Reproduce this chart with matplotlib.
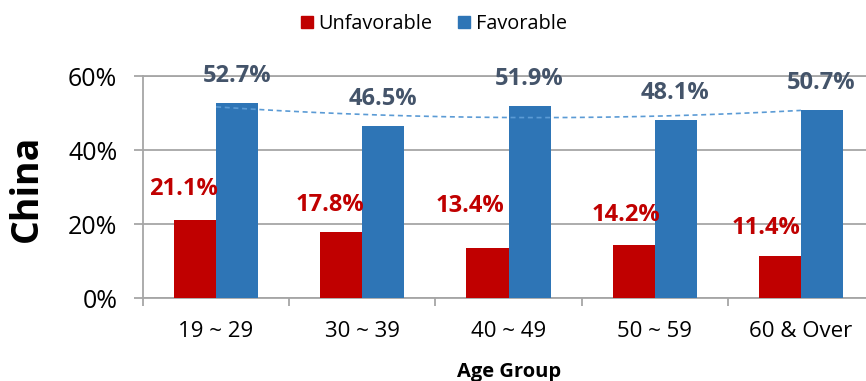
import numpy as np
import matplotlib
matplotlib.use("Agg")
import matplotlib.pyplot as plt
from matplotlib.patches import Patch

plt.rcParams['font.family'] = ['Open Sans', 'DejaVu Sans']

# ---- data ----
categories = ["19 ~ 29", "30 ~ 39", "40 ~ 49", "50 ~ 59", "60 & Over"]
unfavorable = [21.1, 17.8, 13.4, 14.2, 11.4]
favorable = [52.7, 46.5, 51.9, 48.1, 50.7]
series_names = ["Unfavorable", "Favorable"]
y_ticks = [0, 20, 40, 60]

# ---- style ----
RED = "#C00000"
BLUE = "#2E75B6"
LABEL_BLUE = "#44546A"
TREND = "#5B9BD5"
GRID = "#A6A6A6"
W, H = 866, 381

fig = plt.figure(figsize=(W / 100, H / 100), dpi=100)
ax = fig.add_axes([143 / W, (H - 298) / H, (W - 143) / W, 222 / H])

x = np.arange(len(categories))
bw = 0.288
ax.bar(x - bw / 2, unfavorable, bw, color=RED, zorder=3)
ax.bar(x + bw / 2, favorable, bw, color=BLUE, zorder=3)

# polynomial (order 2) trendline of favorable series
coef = np.polyfit(x, favorable, 2)
xs = np.linspace(x[0], x[-1], 200)
ax.plot(xs, np.polyval(coef, xs), color=TREND, lw=1.2, dashes=(3, 2.2), zorder=4)

# data labels (offsets in pixels: dx, dy above bar top to baseline)
red_off = [(-11.5, 25), (-11.5, 21.5), (-17, 36), (-8, 24), (-13.5, 22)]
for i, v in enumerate(unfavorable):
    ax.annotate(f"{v:.1f}%", xy=(x[i] - bw / 2, v), xytext=red_off[i],
                textcoords="offset pixels", ha="center", va="baseline",
                color=RED, fontsize=17, fontweight="bold", zorder=5)
for i, v in enumerate(favorable):
    ax.annotate(f"{v:.1f}%", xy=(x[i] + bw / 2, v), xytext=(-0.5, 21),
                textcoords="offset pixels", ha="center", va="baseline",
                color=LABEL_BLUE, fontsize=17, fontweight="bold", zorder=5)

ax.set_xlim(-0.5, (W - 217) / 146)
ax.set_ylim(0, 60)
ax.set_yticks(y_ticks)
ax.set_yticklabels([f"{t}%" for t in y_ticks])
ax.set_xticks(x)
ax.set_xticklabels(categories)
ax.set_xticks(np.arange(-0.5, len(categories) - 1), minor=True)

ax.tick_params(axis="y", which="major", length=6.5, width=1.3, color=GRID,
               pad=12, labelsize=18, labelcolor="#000000")
ax.tick_params(axis="x", which="major", length=0, pad=16.5, labelsize=16,
               labelcolor="#000000")
ax.tick_params(axis="x", which="minor", length=5.8, width=1.3, color=GRID)

ax.yaxis.grid(True, color=GRID, lw=1.3, zorder=0)
ax.set_axisbelow(True)
for s in ["right"]:
    ax.spines[s].set_visible(False)
for s in ["left", "bottom", "top"]:
    ax.spines[s].set_color(GRID)
    ax.spines[s].set_linewidth(1.3)

# legend
handles = [Patch(color=RED), Patch(color=BLUE)]
fig.legend(handles, series_names, loc="center", bbox_to_anchor=(434 / W, 1 - 24 / H),
           ncol=2, frameon=False, fontsize=14.3, handlelength=0.6, handleheight=0.6,
           handletextpad=0.3, columnspacing=1.3, borderpad=0)

fig.text(27 / W, 1 - 188 / H, "China", rotation=90, ha="center", va="center",
         fontsize=27, fontweight="bold")
fig.text(509 / W, 1 - 377 / H, "Age Group", ha="center", va="baseline",
         fontsize=14.5, fontweight="bold")

fig.savefig("out.png", dpi=100)
